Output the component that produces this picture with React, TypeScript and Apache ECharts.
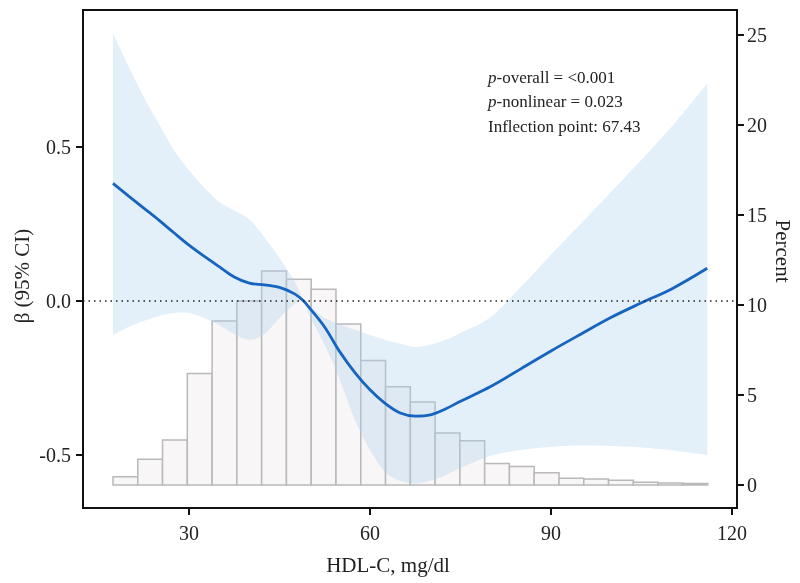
import React, { useEffect, useRef } from "react";
import * as echarts from "echarts";

// HDL-C sample points (mg/dl)
const hdl = [17.4, 20, 22.5, 25, 27.5, 30, 32.5, 35, 37.5, 40, 42.5, 45, 47.5, 49, 50, 52.5, 55, 57.5, 60, 62.5, 65, 67.5, 70, 72.5, 75, 80, 85, 90, 95, 100, 105, 110, 115.9];
// estimated beta
const beta = [0.381, 0.340, 0.301, 0.262, 0.221, 0.181, 0.145, 0.111, 0.078, 0.058, 0.052, 0.044, 0.023, 0.0, -0.023, -0.085, -0.165, -0.232, -0.288, -0.332, -0.363, -0.373, -0.369, -0.350, -0.325, -0.277, -0.220, -0.162, -0.107, -0.053, -0.006, 0.039, 0.106];
// 95% CI upper
const upper = [0.867, 0.759, 0.661, 0.574, 0.489, 0.424, 0.368, 0.321, 0.293, 0.264, 0.206, 0.139, 0.063, 0.0, -0.016, -0.055, -0.076, -0.094, -0.110, -0.126, -0.139, -0.149, -0.142, -0.126, -0.104, -0.052, 0.045, 0.150, 0.252, 0.354, 0.458, 0.565, 0.705];
// 95% CI lower
const lower = [-0.110, -0.084, -0.065, -0.049, -0.039, -0.039, -0.055, -0.078, -0.107, -0.126, -0.107, -0.055, -0.010, 0.0, -0.049, -0.143, -0.256, -0.386, -0.483, -0.554, -0.583, -0.591, -0.583, -0.565, -0.541, -0.502, -0.483, -0.473, -0.468, -0.470, -0.475, -0.484, -0.499];

// histogram (percent per bin)
const binStart = 17.4;
const binWidth = 4.107;
const histPercent = [0.46, 1.43, 2.5, 6.2, 9.11, 10.22, 11.89, 11.43, 10.87, 8.94, 6.91, 5.46, 4.61, 2.89, 2.46, 1.2, 1.03, 0.68, 0.37, 0.33, 0.26, 0.15, 0.11, 0.09];

// ticks
const xTicks = [30, 60, 90, 120];
const yLeftTicks = [-0.5, 0, 0.5];
const yRightTicks = [0, 5, 10, 15, 20, 25];

const annotations = ["{i|p}-overall = <0.001", "{i|p}-nonlinear = 0.023", "Inflection point: 67.43"];

const FONT = "'Liberation Serif', 'Times New Roman', serif";

// Catmull-Rom rendering of a screen-space polyline (visual smoothing only)
function smoothPts(pts: number[][], steps = 8): number[][] {
  const out: number[][] = [];
  const n = pts.length;
  for (let i = 0; i < n - 1; i++) {
    const p0 = pts[Math.max(0, i - 1)];
    const p1 = pts[i];
    const p2 = pts[i + 1];
    const p3 = pts[Math.min(n - 1, i + 2)];
    for (let s = 0; s < steps; s++) {
      const t = s / steps;
      const t2 = t * t;
      const t3 = t2 * t;
      const f = (a: number, b: number, c: number, d: number) =>
        0.5 * (2 * b + (-a + c) * t + (2 * a - 5 * b + 4 * c - d) * t2 + (-a + 3 * b - 3 * c + d) * t3);
      out.push([f(p0[0], p1[0], p2[0], p3[0]), f(p0[1], p1[1], p2[1], p3[1])]);
    }
  }
  out.push(pts[n - 1]);
  return out;
}

export default function App() {
  const ref = useRef<HTMLDivElement>(null);
  useEffect(() => {
    if (!ref.current) return;
    const chart = echarts.init(ref.current, null, { renderer: "svg" });
    const histData = histPercent.map((h, i) => [binStart + i * binWidth, binStart + (i + 1) * binWidth, h]);
    const lineData = hdl.map((x, i) => [x, beta[i]]);

    const axisLabelBase = { color: "#222", fontFamily: FONT, fontSize: 20 };
    const option: any = {
      animation: false,
      grid: { left: 83, right: 63, top: 10, bottom: 75, show: true, borderColor: "#111", borderWidth: 2, backgroundColor: "transparent" },
      xAxis: {
        type: "value",
        min: 12.43,
        max: 120.83,
        position: "bottom",
        splitLine: { show: false },
        axisLine: { show: true, onZero: false, lineStyle: { color: "#111", width: 2 } },
        axisTick: { show: true, customValues: xTicks, length: 7, lineStyle: { color: "#111", width: 2 } },
        axisLabel: { ...axisLabelBase, customValues: xTicks, margin: 15 },
      },
      yAxis: [
        {
          type: "value",
          min: -0.671,
          max: 0.943,
          position: "left",
          splitLine: { show: false },
          axisLine: { show: true, onZero: false, lineStyle: { color: "#111", width: 2 } },
          axisTick: { show: true, customValues: yLeftTicks, length: 7, lineStyle: { color: "#111", width: 2 } },
          axisLabel: { ...axisLabelBase, customValues: yLeftTicks, margin: 12, formatter: (v: number) => Number(v).toFixed(1) },
        },
        {
          type: "value",
          min: -1.278,
          max: 26.39,
          position: "right",
          splitLine: { show: false },
          axisLine: { show: true, onZero: false, lineStyle: { color: "#111", width: 2 } },
          axisTick: { show: true, customValues: yRightTicks, length: 7, lineStyle: { color: "#111", width: 2 } },
          axisLabel: { ...axisLabelBase, customValues: yRightTicks, margin: 10 },
        },
      ],
      series: [
        {
          type: "custom",
          name: "hist",
          xAxisIndex: 0,
          yAxisIndex: 1,
          z: 1,
          silent: true,
          encode: { x: [0, 1], y: 2 },
          data: histData,
          renderItem: (params: any, api: any) => {
            const p0 = api.coord([api.value(0), api.value(2)]);
            const p1 = api.coord([api.value(1), 0]);
            return {
              type: "rect",
              shape: { x: p0[0], y: p0[1], width: p1[0] - p0[0], height: p1[1] - p0[1] },
              style: { fill: "#f8f6f6", stroke: "#b9b9b9", lineWidth: 1.5 },
            };
          },
        },
        {
          type: "custom",
          name: "ci",
          xAxisIndex: 0,
          yAxisIndex: 0,
          z: 2,
          silent: true,
          encode: { x: 0, y: 1 },
          data: [[hdl[0], beta[0]]],
          renderItem: (params: any, api: any) => {
            const up: number[][] = [];
            const lo: number[][] = [];
            for (let i = 0; i < hdl.length; i++) {
              up.push(api.coord([hdl[i], upper[i]]));
              lo.push(api.coord([hdl[i], lower[i]]));
            }
            const pts = smoothPts(up).concat(smoothPts(lo).reverse());
            return {
              type: "polygon",
              shape: { points: pts },
              style: { fill: "rgba(170, 205, 236, 0.33)", stroke: "none" },
            };
          },
        },
        {
          type: "line",
          name: "beta",
          xAxisIndex: 0,
          yAxisIndex: 0,
          z: 3,
          data: lineData,
          showSymbol: false,
          smooth: 0.35,
          lineStyle: { color: "#1565c0", width: 2.8 },
          markLine: {
            silent: true,
            symbol: ["none", "none"],
            label: { show: false },
            lineStyle: { type: [1.5, 4], color: "#222", width: 1.5 },
            data: [{ yAxis: 0 }],
          },
        },
      ],
      graphic: [
        {
          type: "text",
          x: 22,
          y: 276,
          rotation: Math.PI / 2,
          style: { text: "β (95% CI)", fontFamily: FONT, fontSize: 21, fill: "#222", align: "center", verticalAlign: "middle" },
        },
        {
          type: "text",
          x: 783,
          y: 251,
          rotation: -Math.PI / 2,
          style: { text: "Percent", fontFamily: FONT, fontSize: 21, fill: "#222", align: "center", verticalAlign: "middle" },
        },
        {
          type: "text",
          x: 388,
          y: 565,
          style: { text: "HDL-C, mg/dl", fontFamily: FONT, fontSize: 21, fill: "#222", align: "center", verticalAlign: "middle" },
        },
        ...annotations.map((t, i) => ({
          type: "text",
          x: 488,
          y: 77 + i * 24.5,
          style: {
            text: t,
            fontFamily: FONT,
            fontSize: 17,
            fill: "#222",
            align: "left",
            verticalAlign: "middle",
            rich: { i: { fontStyle: "italic", fontFamily: FONT, fontSize: 17, fill: "#222" } },
          },
        })),
      ],
    };
    chart.setOption(option);
    return () => chart.dispose();
  }, []);
  return <div ref={ref} style={{ position: "fixed", left: 0, top: 0, width: 800, height: 583 }} />;
}
